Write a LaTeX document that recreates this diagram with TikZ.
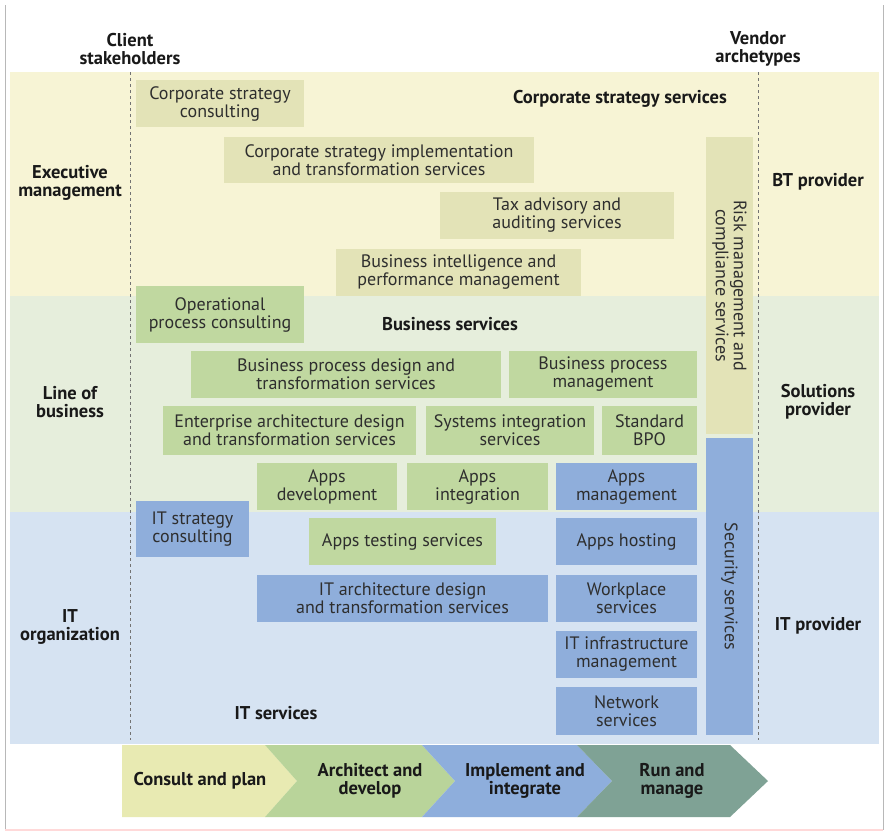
\documentclass[tikz,border=0pt]{standalone}
\usepackage{fontspec}
\setmainfont{PT Sans}
\definecolor{bandY}{HTML}{F7F4D5}
\definecolor{bandG}{HTML}{E6EEDC}
\definecolor{bandB}{HTML}{D6E3F2}
\definecolor{boxY}{HTML}{E3E3B7}
\definecolor{boxG}{HTML}{C0D8A0}
\definecolor{boxB}{HTML}{8FAEDB}
\definecolor{chY}{HTML}{E8EAB2}
\definecolor{chG}{HTML}{B9D49A}
\definecolor{chB}{HTML}{8EAEDC}
\definecolor{chT}{HTML}{7FA295}
\definecolor{txt}{HTML}{2E2E2E}
\definecolor{frame}{HTML}{B8B8B8}
\newcommand\bx[7]{\node[box, fill=#6, minimum width={#4-#2}, minimum height={#5-#3}] (#1) at ({(#2+#4)/2},{(#3+#5)/2}) {#7};}
\begin{document}
\begin{tikzpicture}[x=1pt,y=-1pt,
  box/.style={inner sep=0pt, align=center, text=txt, font=\fontsize{18}{18}\selectfont},
  lbl/.style={inner sep=0pt, align=center, text=black!90, font=\bfseries\fontsize{18.5}{18}\selectfont},
  divider/.style={dashed, draw=black!55, line width=0.6pt}]
\useasboundingbox (0,0) rectangle (885,831);
\fill[white] (0,0) rectangle (885,831);
% frame
\draw[frame, line width=1pt] (5,5) -- (5,830);
\draw[frame, line width=1pt] (883,5) -- (883,830);
\draw[red!15, line width=1.2pt] (5,830) -- (883,830);
% bands
\fill[bandY] (10,72) rectangle (879,296);
\fill[bandG] (10,296) rectangle (879,512);
\fill[bandB] (10,512) rectangle (879,744);
% dividers
\coordinate (dl1) at (130,72); \coordinate (dl2) at (130,740);
\coordinate (dr1) at (758,72); \coordinate (dr2) at (758,740);
\draw[divider] (dl1) -- (dl2);
\draw[divider] (dr1) -- (dr2);
% headers
\node[lbl] (client) at (130,49) {Client\\stakeholders};
\node[lbl] (vendor) at (758,49) {Vendor\\archetypes};
\node[lbl] (exec) at (70,183) {Executive\\management};
\node[lbl] (lob) at (70,402) {Line of\\business};
\node[lbl] (itorg) at (70,627) {IT\\organization};
\node[lbl] (btp) at (818,182) {BT provider};
\node[lbl] (solp) at (818,402) {Solutions\\provider};
\node[lbl] (itp) at (818,626) {IT provider};
% executive boxes
\bx{csc}{136}{80}{304}{127}{boxY}{Corporate strategy\\consulting}
\node[lbl] (css) at (620,99) {Corporate strategy services};
\bx{csi}{224}{137}{534}{183}{boxY}{Corporate strategy implementation\\and transformation services}
\bx{tax}{440}{192}{674}{239}{boxY}{Tax advisory and\\auditing services}
\bx{bipm}{336}{249}{581}{296}{boxY}{Business intelligence and\\performance management}
\node[box, fill=boxY, rotate=-90, minimum width=297, minimum height=47] (risk) at (729.5,285.5) {Risk management and\\compliance services};
% line of business
\bx{opc}{136}{286}{304}{343}{boxG}{Operational\\process consulting}
\node[lbl] (bs) at (450,324) {Business services};
\bx{bpd}{191}{351}{501}{398}{boxG}{Business process design and\\transformation services}
\bx{bpm}{509}{351}{697}{398}{boxG}{Business process\\management}
\bx{ead}{163}{406}{416}{455}{boxG}{Enterprise architecture design\\and transformation services}
\bx{sis}{426}{406}{594}{455}{boxG}{Systems integration\\services}
\bx{bpo}{602}{406}{697}{455}{boxG}{Standard\\BPO}
\bx{adev}{257}{463}{397}{510}{boxG}{Apps\\development}
\bx{aint}{407}{463}{548}{510}{boxG}{Apps\\integration}
\bx{amgt}{556}{463}{697}{510}{boxB}{Apps\\management}
\node[box, fill=boxB, rotate=-90, minimum width=297, minimum height=47] (sec) at (729.5,586.5) {Security services};
% IT organization
\bx{itsc}{136}{501}{249}{557}{boxB}{IT strategy\\consulting}
\bx{ats}{309}{518}{496}{565}{boxG}{Apps testing services}
\bx{ahost}{556}{518}{697}{565}{boxB}{Apps hosting}
\bx{itad}{257}{575}{548}{622}{boxB}{IT architecture design\\and transformation services}
\bx{wps}{556}{575}{697}{622}{boxB}{Workplace\\services}
\bx{itim}{556}{631}{697}{678}{boxB}{IT infrastructure\\management}
\bx{net}{556}{687}{697}{735}{boxB}{Network\\services}
\node[lbl] (its) at (276,713) {IT services};
% chevrons
\fill[chY] (122,745) -- (265,745) -- (297,781) -- (265,817) -- (122,817) -- cycle;
\fill[chG] (265,745) -- (422,745) -- (455,781) -- (422,817) -- (265,817) -- (297,781) -- cycle;
\fill[chB] (422,745) -- (577,745) -- (612,781) -- (577,817) -- (422,817) -- (455,781) -- cycle;
\fill[chT] (577,745) -- (730,745) -- (768,781) -- (730,817) -- (577,817) -- (612,781) -- cycle;
\node[lbl] (cp) at (200,781) {Consult and plan};
\node[lbl] (ad) at (370,781) {Architect and\\develop};
\node[lbl] (ii) at (525,781) {Implement and\\integrate};
\node[lbl] (rm) at (672,781) {Run and\\manage};
\end{tikzpicture}
\end{document}
